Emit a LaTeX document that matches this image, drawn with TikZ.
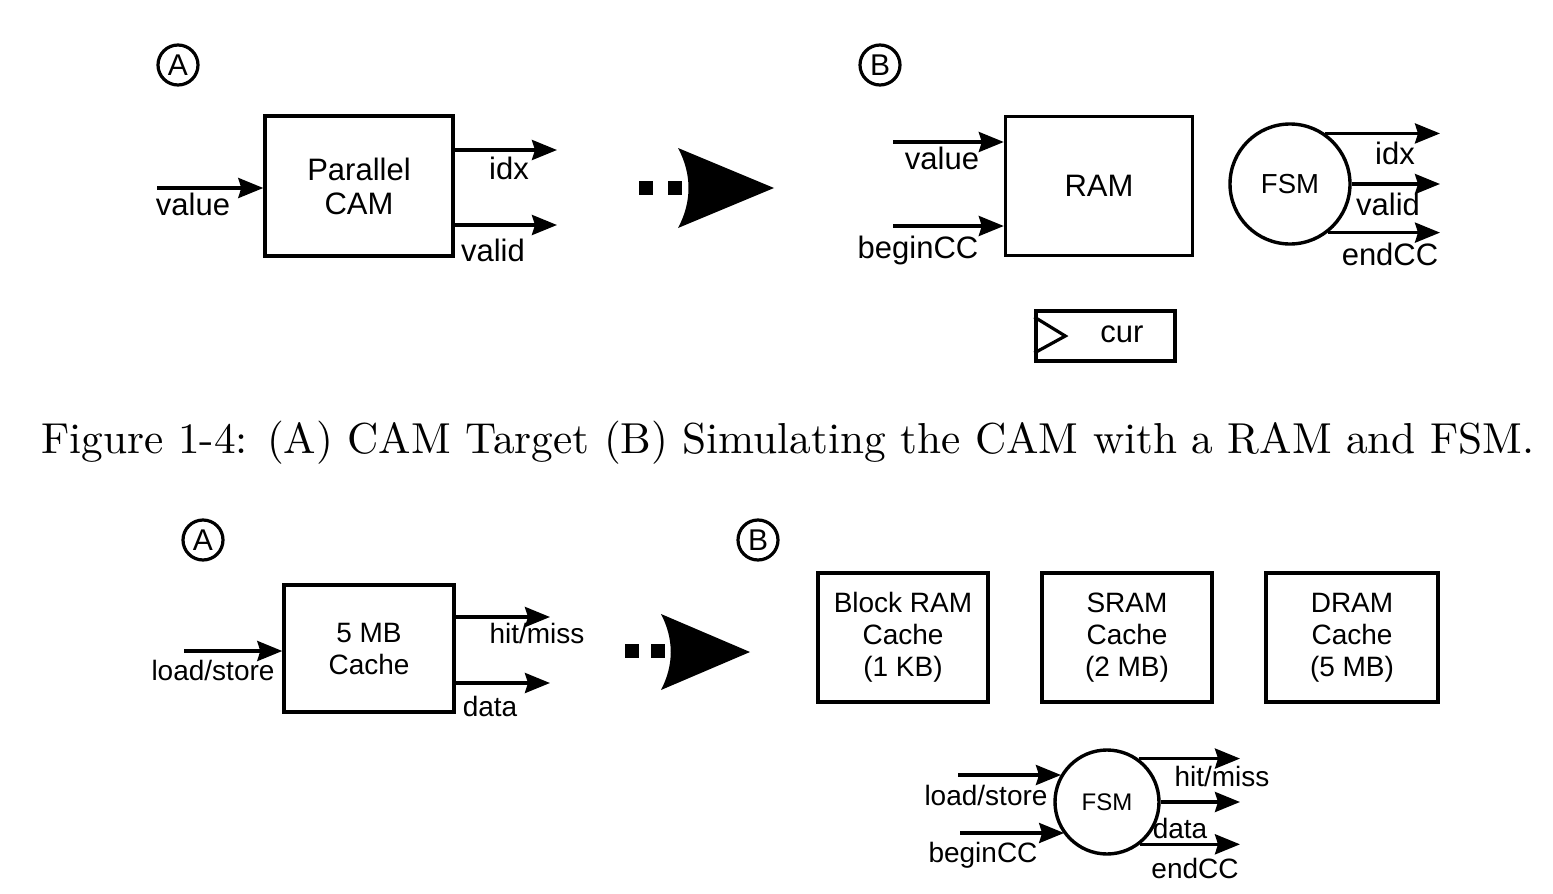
\documentclass[tikz,border=0pt]{standalone}
\usepackage{fontspec}
\newfontfamily\arial{Liberation Sans}
\usetikzlibrary{arrows.meta}
\begin{document}
\begin{tikzpicture}[x=1pt,y=-1pt,
  box/.style={draw,line width=3.4pt,inner sep=0pt,align=center},
  sig/.style={line width=3.4pt,-{Stealth[length=25pt,width=20pt,inset=3pt]}},
  lbT/.style={inner sep=0pt,font=\arial\fontsize{31}{34}\selectfont},
  lbB/.style={inner sep=0pt,font=\arial\fontsize{28}{32}\selectfont},
  tag/.style={draw,circle,line width=3.2pt,minimum size=40pt,inner sep=0pt,font=\arial\fontsize{30}{30}\selectfont},
  fsmT/.style={draw,circle,line width=3.4pt,minimum size=120pt,inner sep=0pt,font=\arial\fontsize{27.5}{28}\selectfont},
  fsmB/.style={draw,circle,line width=3.4pt,minimum size=104pt,inner sep=0pt,font=\arial\fontsize{24}{24}\selectfont}]
\useasboundingbox (0,0) rectangle (1553,894);
% ---------------- top part ----------------
\node[tag] (tA) at (178,65) {A};
\node[tag] (tB) at (880,65) {B};
% A: parallel CAM
\node[box,lbT,minimum width=188pt,minimum height=140pt] (cam) at (359,186) {Parallel\\CAM};
\coordinate (cvin) at (157,188);
\coordinate (cidx) at (557,150);
\coordinate (cval) at (557,225);
\draw[sig] (cvin) -- (cvin -| cam.west);
\draw[sig] (cidx -| cam.east) -- (cidx);
\draw[sig] (cval -| cam.east) -- (cval);
\node[lbT] (l1) at (193,204) {value};
\node[lbT] (l2) at (509,168) {idx};
\node[lbT] (l3) at (493,250) {valid};
% transform symbol
\fill (639,181) rectangle (653,195);
\fill (668,181) rectangle (682,195);
\fill (678,148) -- (774,188) -- (678,228) .. controls (692,202) and (692,174) .. (678,148);
% B: RAM + FSM
\node[box,lbT,minimum width=187pt,minimum height=139pt] (ram) at (1099,186) {RAM};
\coordinate (rv) at (893,142);
\coordinate (rb) at (893,226);
\draw[sig] (rv) -- (rv -| ram.west);
\draw[sig] (rb) -- (rb -| ram.west);
\node[lbT] (l4) at (942,158) {value};
\node[lbT] (l5) at (918,250) {beginCC};
\node[fsmT] (fsm) at (1290,184) {FSM};
\coordinate (fe) at (1440,0);
\draw[sig] (fsm.55) -- (fsm.55 -| fe);
\draw[sig] (fsm.east) -- (fsm.east -| fe);
\draw[sig] (fsm.-52) -- (fsm.-52 -| fe);
\node[lbT] (l6) at (1395,153) {idx};
\node[lbT] (l7) at (1388,204) {valid};
\node[lbT] (l8) at (1390,254) {endCC};
% cur register
\node[box,minimum width=139pt,minimum height=50pt] (cur) at (1105.5,336) {};
\draw[line width=3.2pt,line join=miter] ([yshift=-17pt]cur.west) -- ([xshift=31pt]cur.west) -- ([yshift=19pt]cur.west);
\node[lbT] (l9) at (1122,334) {cur};
% caption
\node[inner sep=0pt] (cap) at (788,443) {\resizebox{1493pt}{!}{\rmfamily Figure 1-4: (A) CAM Target (B) Simulating the CAM with a RAM and FSM.}};
% ---------------- bottom part ----------------
\node[tag] (bA) at (203,540) {A};
\node[tag] (bB) at (758,540) {B};
\node[box,lbB,minimum width=170pt,minimum height=127pt] (cache) at (369,648.5) {5 MB\\Cache};
\coordinate (ls) at (184,651);
\coordinate (hm) at (550,617);
\coordinate (dt) at (550,683);
\draw[sig] (ls) -- (ls -| cache.west);
\draw[sig] (hm -| cache.east) -- (hm);
\draw[sig] (dt -| cache.east) -- (dt);
\node[lbB] (m1) at (213,670) {load/store};
\node[lbB] (m2) at (537,633) {hit/miss};
\node[lbB] (m3) at (490,706) {data};
% transform symbol
\fill (625,644) rectangle (639,658);
\fill (651,644) rectangle (665,658);
\fill (661,614) -- (750,652) -- (661,690) .. controls (674,665) and (674,639) .. (661,614);
% cache boxes
\node[box,lbB,minimum width=170pt,minimum height=129pt] (c1) at (903,637.5) {Block RAM\\Cache\\(1 KB)};
\node[box,lbB,minimum width=170pt,minimum height=129pt] (c2) at (1127,637.5) {SRAM\\Cache\\(2 MB)};
\node[box,lbB,minimum width=172pt,minimum height=129pt] (c3) at (1352,637.5) {DRAM\\Cache\\(5 MB)};
% FSM
\node[fsmB] (fsm2) at (1107,802) {FSM};
\coordinate (i1) at (958,775);
\coordinate (i2) at (960,833);
\coordinate (oe) at (1240,0);
\draw[sig] (i1) -- (i1 -| fsm2.149);
\draw[sig] (i2) -- (i2 -| fsm2.217);
\draw[sig] (fsm2.54) -- (fsm2.54 -| oe);
\draw[sig] (fsm2.east) -- (fsm2.east -| oe);
\draw[sig] (fsm2.-52) -- (fsm2.-52 -| oe);
\node[lbB] (n1) at (986,795) {load/store};
\node[lbB] (n2) at (983,855) {beginCC};
\node[lbB] (n3) at (1222,776) {hit/miss};
\node[lbB] (n4) at (1180,828) {data};
\node[lbB] (n5) at (1195,868) {endCC};
\end{tikzpicture}
\end{document}
